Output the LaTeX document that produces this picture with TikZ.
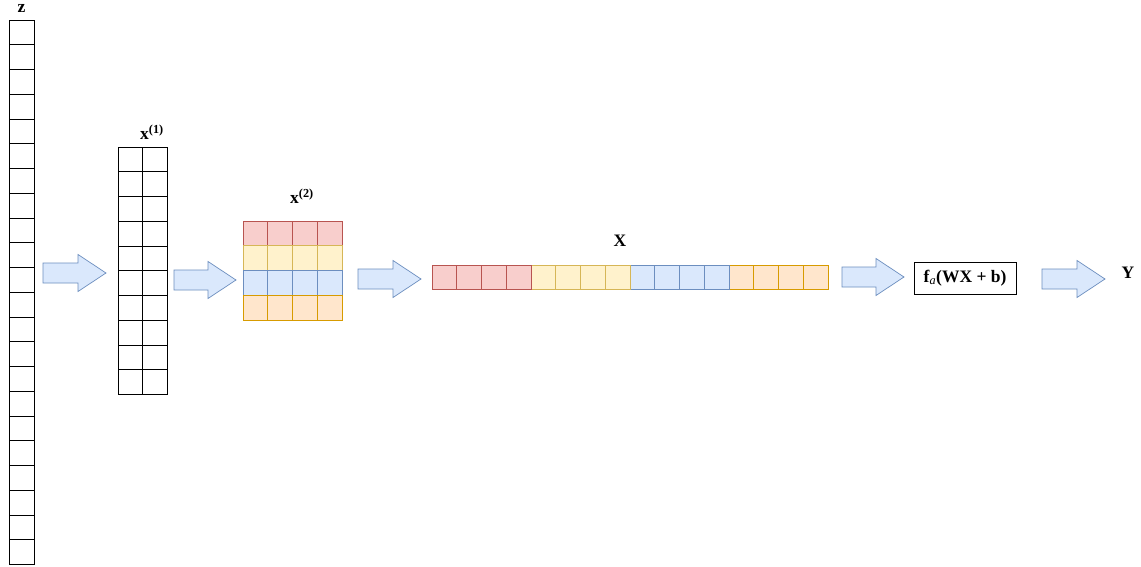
\documentclass[tikz,border=0pt]{standalone}
\usepackage{fontspec}
\setmainfont{Liberation Serif}
\begin{document}
\begin{tikzpicture}[x=1pt,y=-1pt,
  cell/.style={draw=black,line width=0.9pt,fill=white},
  lab/.style={font=\bfseries\fontsize{17.5}{20}\selectfont,inner sep=0pt},
  fbox/.style={draw=black,line width=0.9pt,minimum width=102pt,minimum height=32pt,inner sep=0pt,font=\fontsize{17.5}{20}\selectfont}
]
\definecolor{rf}{HTML}{F8CECC}\definecolor{rs}{HTML}{B85450}
\definecolor{yf}{HTML}{FFF2CC}\definecolor{ys}{HTML}{D6B656}
\definecolor{bf}{HTML}{DAE8FC}\definecolor{bs}{HTML}{6C8EBF}
\definecolor{of}{HTML}{FFE6CC}\definecolor{os}{HTML}{D79B00}
\tikzset{
  redcell/.style={draw=rs,fill=rf,line width=0.8pt},
  yelcell/.style={draw=ys,fill=yf,line width=0.8pt},
  bluecell/.style={draw=bs,fill=bf,line width=0.8pt},
  orgcell/.style={draw=os,fill=of,line width=0.8pt},
  barrow/.style={draw=bs,fill=bf,line width=0.7pt,line join=miter}
}
\useasboundingbox[fill=white] (0,0) rectangle (1141,567);
\def\s{24.75}
% block arrow: left x, right x, centre y
\newcommand\blockarrow[3]{%
  \draw[barrow]
    (#1,#3-10) -- (#2-28,#3-10) -- (#2-28,#3-18.5) -- (#2,#3)
    -- (#2-28,#3+18.5) -- (#2-28,#3+10) -- (#1,#3+10) -- cycle;}
% column z
\foreach \i in {0,...,21}
  \draw[cell] (9,20+\i*\s) rectangle +(25,\s);
\node[lab] (zl) at (21.5,8) {z};
% x^(1)
\foreach \i in {0,...,9}
  \foreach \j in {0,1}
    \draw[cell] (118+\j*\s,147+\i*\s) rectangle +(\s,\s);
\node[lab] (x1l) at (152,132) {x\textsuperscript{(1)}};
% x^(2)
\foreach \j in {0,...,3}{
  \draw[redcell] (243+\j*\s,221) rectangle +(\s,\s);
  \draw[yelcell] (243+\j*\s,221+\s) rectangle +(\s,\s);
  \draw[bluecell] (243+\j*\s,221+2*\s) rectangle +(\s,\s);
  \draw[orgcell] (243+\j*\s,221+3*\s) rectangle +(\s,\s);
}
\node[lab] (x2l) at (302,196) {x\textsuperscript{(2)}};
% X
\foreach \j in {0,...,3}{
  \draw[redcell] (432+\j*\s,265) rectangle +(\s,\s);
  \draw[yelcell] (432+4*\s+\j*\s,265) rectangle +(\s,\s);
  \draw[bluecell] (432+8*\s+\j*\s,265) rectangle +(\s,\s);
  \draw[orgcell] (432+12*\s+\j*\s,265) rectangle +(\s,\s);
}
\node[lab] (Xl) at (620,241) {X};
% activation box and output
\node[fbox] (act) at (965,278) {\textbf{f}\textsubscript{\textit{a}}\textbf{(WX + b)}};
\node[lab] (Yl) at (1128,273) {Y};
% block arrows
\blockarrow{43}{106}{273}
\blockarrow{174}{236}{280}
\blockarrow{358}{421}{279}
\blockarrow{842}{904}{277}
\blockarrow{1042}{1105}{279}
\end{tikzpicture}
\end{document}
